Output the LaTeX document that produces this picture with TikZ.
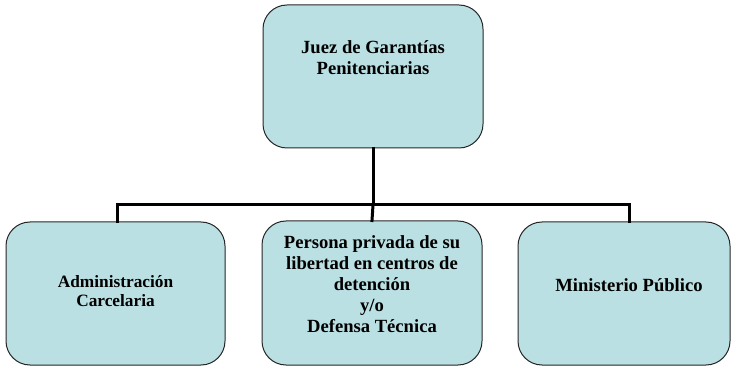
\documentclass[tikz,border=0pt]{standalone}
\usepackage{fontspec}
\setmainfont{Liberation Serif}
\begin{document}
\begin{tikzpicture}[x=1pt,y=1pt,
  box/.style={draw=black!85, line width=1pt, fill=boxfill, rounded corners=24pt, inner sep=0pt},
  lbl/.style={font=\bfseries\fontsize{18.6}{21}\selectfont, align=center, inner sep=0pt},
  conn/.style={line width=3pt, line cap=rect}]
\definecolor{boxfill}{RGB}{187,224,227}
\useasboundingbox (0,0) rectangle (731,367);
% boxes
\node[box, minimum width=220pt, minimum height=143pt] (top) at (373,290.5) {};
\node[box, minimum width=219pt, minimum height=143pt] (left) at (115.5,73.5) {};
\node[box, minimum width=220pt, minimum height=144pt] (mid) at (372,74) {};
\node[box, minimum width=212pt, minimum height=143pt] (right) at (624,73.5) {};
% texts
\node[lbl] (ttop) at (373,309) {Juez de Garantías\\Penitenciarias};
\node[lbl, font=\bfseries\fontsize{17.3}{19}\selectfont] (tleft) at (115.5,76) {Administración\\Carcelaria};
\node[lbl] (tmid) at (372,83) {Persona privada de su\\libertad en centros de\\detención\\y/o\\Defensa Técnica};
\node[lbl] (tright) at (629,82) {Ministerio Público};
% bus
\coordinate (bus) at (373,162);
\draw[conn] (top.south) -- (top.south |- bus);
\draw[conn] (left.north -| 117,0) |- (bus) -| (right.north -| 629,0);
\draw[conn] (bus) -- (mid.north);
\end{tikzpicture}
\end{document}
